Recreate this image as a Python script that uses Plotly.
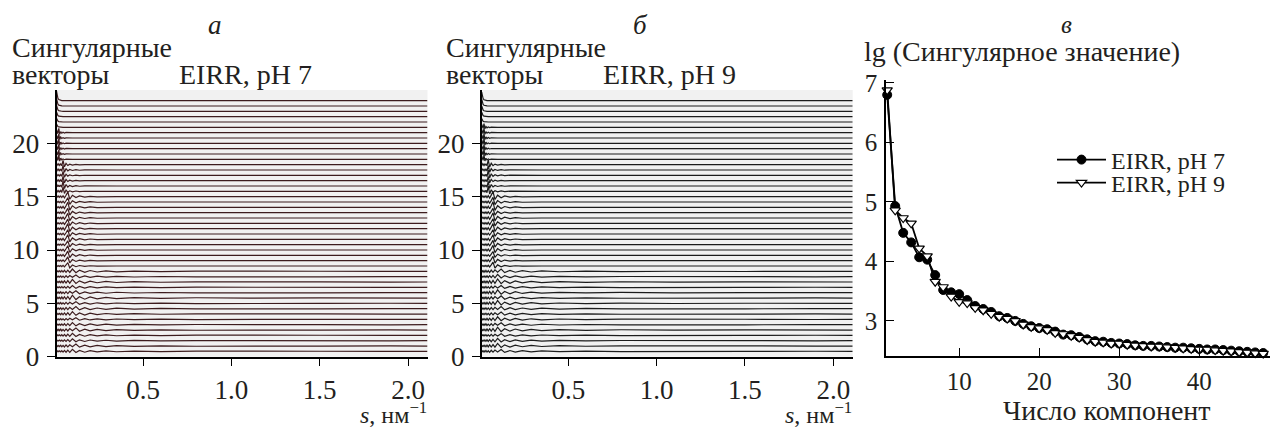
import plotly.graph_objects as go

W, H = 1270, 430

# ---------------- data: panels a and b (stacked singular vectors) ----------------
S_GRID = [0.010, 0.014, 0.018, 0.023, 0.028, 0.034, 0.040, 0.047, 0.055, 0.064,
          0.074, 0.085, 0.100, 0.120, 0.140, 0.170, 0.200, 0.240, 0.290, 0.350,
          0.450, 0.600, 0.800, 1.100, 1.500, 1.900, 2.110]

OFFSETS = [24.0, 23.5, 23.0, 22.5, 22.0, 21.5, 21.0, 20.5, 20.0, 19.5, 19.0, 18.5,
           18.0, 17.5, 17.0, 16.5, 16.0, 15.5, 15.0, 14.5, 14.0, 13.5, 13.0, 12.5,
           12.0, 11.5, 11.0, 10.5, 10.0, 9.5, 9.0, 8.5, 8.0, 7.5, 7.0, 6.5,
           6.0, 5.5, 5.0, 4.5, 4.0, 3.5, 3.0, 2.5, 2.0, 1.5, 1.0, 0.5]

PAT_SMOOTH = [0.90, 0.45, 0.22, 0.10, 0.05, 0.02, 0.01, 0.0, 0.0, 0.0,
              0.0, 0.0, 0.0, 0.0, 0.0, 0.0, 0.0, 0.0, 0.0, 0.0,
              0.0, 0.0, 0.0, 0.0, 0.0, 0.0, 0.0]
PAT_EARLY = [0.30, 0.10, -0.10, 0.40, -0.15, 0.10, -0.05, 0.04, -0.03, 0.02,
             0.0, 0.01, 0.0, 0.0, 0.0, 0.0, 0.0, 0.0, 0.0, 0.0,
             0.0, 0.0, 0.0, 0.0, 0.0, 0.0, 0.0]
PAT_MID1 = [0.15, 0.04, -0.05, 0.07, -0.06, 0.08, -0.10, 0.40, -0.20, 0.12,
            -0.08, 0.05, -0.04, 0.03, -0.02, 0.01, 0.0, 0.0, 0.0, 0.0,
            0.0, 0.0, 0.0, 0.0, 0.0, 0.0, 0.0]
PAT_MID2 = [0.10, 0.03, -0.04, 0.05, -0.05, 0.06, -0.07, 0.08, -0.10, 0.12,
            0.40, -0.22, 0.12, -0.08, 0.06, -0.04, 0.03, -0.02, 0.01, 0.0,
            0.0, 0.0, 0.0, 0.0, 0.0, 0.0, 0.0]
PAT_LATE1 = [0.04, -0.03, 0.05, -0.04, 0.06, -0.06, 0.08, -0.07, 0.10, -0.09,
             0.12, -0.10, 0.22, -0.12, 0.10, -0.09, 0.08, -0.06, 0.05, -0.04,
             0.03, -0.02, 0.02, -0.01, 0.01, -0.01, 0.0]
PAT_LATE2 = [-0.03, 0.04, -0.05, 0.06, -0.05, 0.08, -0.07, 0.06, -0.09, 0.10,
             -0.08, 0.12, -0.06, 0.18, -0.10, 0.08, -0.07, 0.06, -0.05, 0.04,
             -0.03, 0.02, -0.02, 0.01, -0.01, 0.01, 0.0]
PATTERNS = {"s": PAT_SMOOTH, "e": PAT_EARLY, "m1": PAT_MID1, "m2": PAT_MID2,
            "l1": PAT_LATE1, "l2": PAT_LATE2}

# pattern id and amplitude for each vector, top to bottom
GROUP_A = (["s"] * 6 + ["e"] * 6 + ["m1"] * 6 + ["m2"] * 14 +
           ["l1", "l2", "l1", "l1", "l2", "l1", "l2", "l2",
            "l1", "l2", "l1", "l2", "l1", "l1", "l2", "l1"])
AMP_A = [1.0, 0.8, 0.65, 0.5, 0.4, 0.35,
         1.0, 0.9, 1.1, 1.0, 0.9, 1.1,
         1.0, 1.1, 0.9, 1.0, 1.2, 1.0,
         1.1, 1.0, 1.2, 1.0, 1.1, 1.0, 1.2, 1.0, 1.1, 0.9, 1.0, 1.0, 0.9, 0.8,
         1.0, 0.9, 1.1, 0.8, 1.0, 1.2, 0.9, 1.1, 1.0, 0.8, 0.9, 1.1, 0.9, 0.8, 1.0, 0.9]

GROUP_B = (["s"] * 5 + ["e"] * 7 + ["m1"] * 6 + ["m2"] * 14 +
           ["l2", "l1", "l1", "l2", "l1", "l2", "l1", "l2",
            "l2", "l1", "l2", "l1", "l2", "l1", "l1", "l2"])
AMP_B = [0.9, 0.7, 0.55, 0.45, 0.35,
         0.9, 1.0, 1.0, 1.1, 0.9, 1.1, 1.0,
         1.1, 1.0, 1.2, 1.0, 1.1, 1.2,
         1.2, 1.1, 1.3, 1.0, 1.2, 1.1, 1.2, 1.0, 1.1, 1.0, 1.1, 0.9, 1.0, 0.9,
         1.2, 1.0, 1.3, 1.0, 1.2, 1.1, 1.2, 1.1, 1.0, 1.1, 1.0, 1.2, 0.9, 1.0, 1.1, 1.0]

# ---------------- data: panel c (lg singular values) ----------------
N_COMP = list(range(1, 49))
LG_PH7 = [6.80, 4.93, 4.48, 4.32, 4.07, 4.03, 3.77, 3.52, 3.48, 3.45, 3.35, 3.25,
          3.20, 3.15, 3.08, 3.05, 3.00, 2.95, 2.91, 2.88, 2.86, 2.82, 2.77, 2.76,
          2.73, 2.69, 2.66, 2.65, 2.63, 2.62, 2.61, 2.59, 2.58, 2.58, 2.57, 2.56,
          2.55, 2.55, 2.54, 2.53, 2.52, 2.52, 2.51, 2.50, 2.49, 2.48, 2.47, 2.46]
LG_PH9 = [6.88, 4.86, 4.73, 4.64, 4.22, 4.09, 3.66, 3.57, 3.41, 3.32, 3.30, 3.22,
          3.18, 3.12, 3.07, 3.04, 3.00, 2.94, 2.90, 2.88, 2.85, 2.80, 2.78, 2.75,
          2.72, 2.68, 2.65, 2.64, 2.62, 2.62, 2.60, 2.59, 2.58, 2.57, 2.57, 2.56,
          2.55, 2.54, 2.53, 2.52, 2.52, 2.51, 2.50, 2.49, 2.48, 2.47, 2.46, 2.45]

S_TICKS = [0.5, 1.0, 1.5, 2.0]
S_TICKTEXT = ["0.5", "1.0", "1.5", "2.0"]
V_TICKS = [0, 5, 10, 15, 20]
N_TICKS = [10, 20, 30, 40]
LG_TICKS = [3, 4, 5, 6, 7]

FONT = "Liberation Serif, Times New Roman, DejaVu Serif, serif"
TXT = "#231f20"
COLOR_A = "#3d1c1e"
COLOR_B = "#1c1c1c"

fig = go.Figure()

for groups, amps, color, xa, ya in [(GROUP_A, AMP_A, COLOR_A, "x", "y"),
                                      (GROUP_B, AMP_B, COLOR_B, "x2", "y2")]:
    for off, g, a in zip(OFFSETS, groups, amps):
        pat = PATTERNS[g]
        yv = [off + a * d for d in pat]
        fig.add_trace(go.Scatter(x=S_GRID, y=yv, mode="lines", xaxis=xa, yaxis=ya,
                                 line=dict(color=color, width=1.2), showlegend=False,
                                 hoverinfo="skip"))

fig.add_trace(go.Scatter(x=N_COMP, y=LG_PH7, mode="lines+markers", xaxis="x3", yaxis="y3",
                         name="EIRR, pH 7", cliponaxis=False, legend="legend",
                         line=dict(color="black", width=1.8),
                         marker=dict(symbol="circle", size=9, color="black",
                                     line=dict(color="black", width=1))))
fig.add_trace(go.Scatter(x=N_COMP, y=LG_PH9, mode="lines+markers", xaxis="x3", yaxis="y3",
                         name="EIRR, pH 9", cliponaxis=False, legend="legend2",
                         line=dict(color="black", width=1.8),
                         marker=dict(symbol="triangle-down", size=9, color="white",
                                     line=dict(color="black", width=1.2))))


def px(x):
    return x / W


def py(y):
    return 1 - y / H


ax_common = dict(showgrid=False, zeroline=False, showline=True, linecolor="black",
                 linewidth=1.5, tickcolor="black", tickwidth=1.3, automargin=False,
                 tickfont=dict(family=FONT, size=27, color=TXT))
tick_c = dict(family=FONT, size=25, color=TXT)

leg_common = dict(xanchor="left", yanchor="middle", bgcolor="rgba(0,0,0,0)",
                  font=dict(family=FONT, size=24, color=TXT), itemwidth=49,
                  tracegroupgap=0, borderwidth=0)

ya_dom = [py(356.7), py(90)]
fig.update_layout(
    template="none",
    width=W, height=H, margin=dict(l=0, r=0, t=0, b=0, pad=0, autoexpand=False),
    paper_bgcolor="white", plot_bgcolor="white",
    font=dict(family=FONT, color=TXT),
    xaxis=dict(domain=[px(56.5), px(427.5)], range=[0.01, 2.11], anchor="y",
               tickvals=S_TICKS, ticktext=S_TICKTEXT, ticks="outside", ticklen=8,
               ticklabelstandoff=0, **ax_common),
    yaxis=dict(domain=ya_dom, range=[0, 25], anchor="x", tickvals=V_TICKS,
               ticks="outside", ticklen=8, ticklabelstandoff=2, **ax_common),
    xaxis2=dict(domain=[px(481.7), px(852.7)], range=[0.01, 2.11], anchor="y2",
                tickvals=S_TICKS, ticktext=S_TICKTEXT, ticks="outside", ticklen=8,
                ticklabelstandoff=0, **ax_common),
    yaxis2=dict(domain=ya_dom, range=[0, 25], anchor="x2", tickvals=V_TICKS,
                ticks="outside", ticklen=8, ticklabelstandoff=2, **ax_common),
    xaxis3=dict(domain=[px(886), 1.0], range=[0.85, 48.85], anchor="y3",
                tickvals=N_TICKS, ticks="inside", ticklen=8, ticklabelstandoff=2,
                **{**ax_common, "tickfont": tick_c}),
    yaxis3=dict(domain=[py(356), py(80)], range=[2.41, 7.05], anchor="x3",
                tickvals=LG_TICKS, ticks="inside", ticklen=8, ticklabelstandoff=2,
                **{**ax_common, "tickfont": tick_c}),
    legend=dict(x=px(1052), y=py(160), **leg_common),
    legend2=dict(x=px(1052), y=py(183), **leg_common),
    showlegend=True,
)

for xr, yr in [("x domain", "y domain"), ("x2 domain", "y2 domain")]:
    fig.add_shape(type="rect", xref=xr, yref=yr, x0=0, x1=1, y0=0, y1=1,
                  fillcolor="#f1f1f1", line=dict(width=0), layer="below")


def ann(text, x, y, size, xanchor="center", yanchor="middle"):
    fig.add_annotation(text=text, x=px(x), y=py(y), xref="paper", yref="paper",
                       xanchor=xanchor, yanchor=yanchor, showarrow=False,
                       font=dict(family=FONT, size=size, color=TXT))


ann("<i>а</i>", 215, 25, 27)
ann("Сингулярные", 10, 47, 28, "left")
ann("векторы", 10, 75, 28, "left")
ann("EIRR, pH 7", 245, 75, 28)
ann("<i>s</i>, нм<sup>−1</sup>", 429, 430, 24, "right", "bottom")

ann("<i>б</i>", 640, 25, 27)
ann("Сингулярные", 444, 47, 28, "left")
ann("векторы", 444, 75, 28, "left")
ann("EIRR, pH 9", 669, 75, 28)
ann("<i>s</i>, нм<sup>−1</sup>", 854, 430, 24, "right", "bottom")

ann("<i>в</i>", 1066, 25, 25)
ann("lg (Сингулярное значение)", 862, 51, 28, "left")
ann("Число компонент", 1107, 410, 28)

fig.write_html("out.html")
